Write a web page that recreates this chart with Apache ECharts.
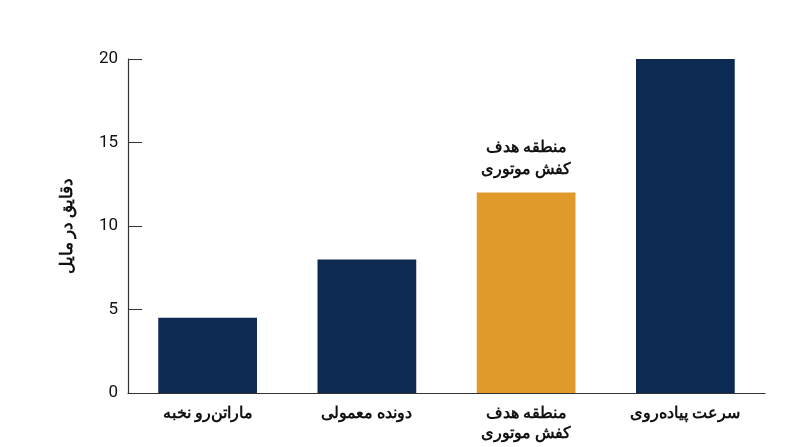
<!DOCTYPE html><html><head><meta charset="utf-8"><script src="https://cdn.jsdelivr.net/npm/echarts@6/dist/echarts.min.js"></script></head><body style="margin:0"><div id="c" style="width:800px;height:447px"></div><script>
const categories=['ماراتن‌رو نخبه','دونده معمولی','منطقه هدف\nکفش موتوری','سرعت پیاده‌روی'];
const values=[4.5,8,12,20];
const highlight=2;
const chart=echarts.init(document.getElementById('c'));
chart.setOption({
 grid:{left:128,right:35,top:59,bottom:54},
 xAxis:{type:'category',data:categories,axisTick:{show:false},
  axisLine:{lineStyle:{color:'#333',width:1.2}},
  axisLabel:{color:'#111',fontSize:16,fontWeight:'bold',fontFamily:'Noto Sans',lineHeight:20,margin:10}},
 yAxis:{type:'value',min:0,max:20,interval:5,name:'دقایق در مایل',nameLocation:'middle',nameGap:52,
  nameTextStyle:{fontSize:17,fontWeight:'bold',color:'#111',fontFamily:'Noto Sans'},
  axisLine:{show:true,lineStyle:{color:'#333',width:1.2}},axisTick:{show:true,inside:true,length:14,lineStyle:{color:'#333'}},
  splitLine:{show:false},axisLabel:{color:'#111',fontSize:17,fontFamily:'Roboto',margin:10}},
 series:[{type:'bar',barWidth:'62%',data:values.map((v,i)=>({value:v,itemStyle:{color:i===highlight?'#e09a2a':'#0d2a52'},
  label:i===highlight?{show:true,position:'top',formatter:categories[i],fontSize:16,fontWeight:'bold',color:'#111',fontFamily:'Noto Sans',lineHeight:22,distance:12}:{show:false}}))}]
});
</script></body></html>
